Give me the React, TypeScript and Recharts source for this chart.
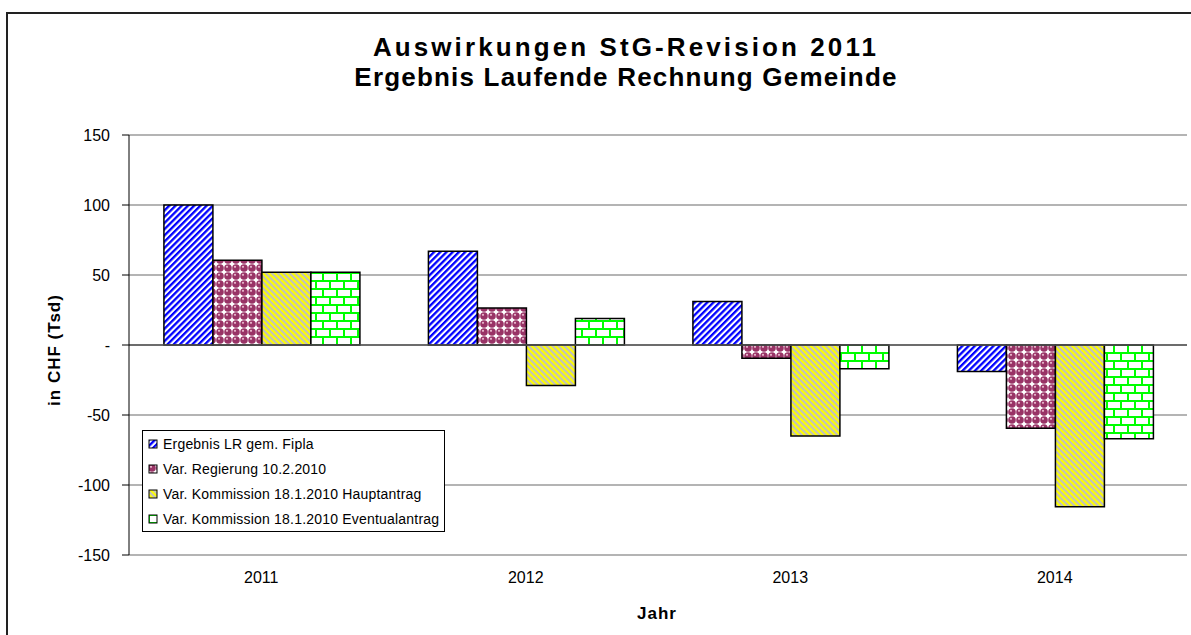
import React from "react";
import {
  Bar,
  BarChart,
  CartesianGrid,
  Legend,
  ReferenceLine,
  XAxis,
  YAxis,
} from "recharts";

const years = ["2011", "2012", "2013", "2014"];
const fipla = [100, 67, 31, -19];
const regierung = [60.5, 26.5, -9.5, -59.5];
const hauptantrag = [52, -29, -65, -115.5];
const eventualantrag = [52, 19, -17, -67];
const yTicks = [-150, -100, -50, 0, 50, 100, 150];

const series = [
  { key: "fipla", name: "Ergebnis LR gem. Fipla", fill: "url(#patBlue)" },
  { key: "regierung", name: "Var. Regierung 10.2.2010", fill: "url(#patRed)" },
  { key: "haupt", name: "Var. Kommission 18.1.2010 Hauptantrag", fill: "url(#patYellow)" },
  { key: "eventual", name: "Var. Kommission 18.1.2010 Eventualantrag", fill: "url(#patGreen)" },
];

const data = years.map((year, i) => ({
  year,
  fipla: fipla[i],
  regierung: regierung[i],
  haupt: hauptantrag[i],
  eventual: eventualantrag[i],
}));

const font = '"Liberation Sans", Arial, sans-serif';

function LegendBox() {
  return (
    <div
      style={{
        border: "1px solid #000",
        background: "#fff",
        padding: "0 4px 0 5px",
        fontFamily: font,
        fontSize: 14,
        color: "#000",
        boxSizing: "border-box",
      }}
    >
      {series.map((s) => (
        <div key={s.key} style={{ display: "flex", alignItems: "center", height: 25 }}>
          <svg width={10} height={10} style={{ marginRight: 5, flexShrink: 0 }}>
            <rect x={1} y={1} width={8} height={8} fill={s.fill} stroke="#000" strokeWidth={1} />
          </svg>
          <span style={{ letterSpacing: 0.2, whiteSpace: "nowrap" }}>{s.name}</span>
        </div>
      ))}
    </div>
  );
}

export default function App() {
  return (
    <div
      style={{
        position: "absolute",
        left: 0,
        top: 0,
        width: 1191,
        height: 635,
        overflow: "hidden",
        background: "#fff",
        fontFamily: font,
      }}
    >
      {/* outer chart frame */}
      <div
        style={{
          position: "absolute",
          left: 6,
          top: 12,
          width: 1220,
          height: 700,
          border: "2px solid #222",
          boxSizing: "border-box",
        }}
      />
      <div
        style={{
          position: "absolute",
          left: 126,
          width: 1000,
          top: 32,
          textAlign: "center",
          fontWeight: "bold",
          fontSize: 26,
          lineHeight: "30px",
          color: "#000",
        }}
      >
        <div style={{ letterSpacing: 3.1 }}>Auswirkungen StG-Revision 2011</div>
        <div style={{ letterSpacing: 1.2 }}>Ergebnis Laufende Rechnung Gemeinde</div>
      </div>
      <div
        style={{
          position: "absolute",
          left: 55,
          top: 350,
          transform: "translate(-50%, -50%) rotate(-90deg)",
          fontWeight: "bold",
          fontSize: 17,
          letterSpacing: 1,
          whiteSpace: "nowrap",
        }}
      >
        in CHF (Tsd)
      </div>
      <div
        style={{
          position: "absolute",
          left: 657,
          top: 614,
          transform: "translate(-50%, -50%)",
          fontWeight: "bold",
          fontSize: 17,
          letterSpacing: 1,
        }}
      >
        Jahr
      </div>
      <div style={{ position: "absolute", left: 0, top: 0 }}>
        <BarChart
          width={1191}
          height={635}
          data={data}
          margin={{ top: 135, right: 4, left: 0, bottom: 40 }}
          barCategoryGap="13.2%"
          barGap={0}
        >
          <defs>
            <pattern id="patBlue" width={4.4} height={4.4} patternUnits="userSpaceOnUse" patternTransform="rotate(45)">
              <rect width={4.4} height={4.4} fill="#fff" />
              <rect width={2.3} height={4.4} fill="#0000ff" />
            </pattern>
            <pattern id="patYellow" width={4.2} height={4.2} patternUnits="userSpaceOnUse" patternTransform="rotate(-45)">
              <rect width={4.2} height={4.2} fill="#c0c0c0" />
              <rect width={2.1} height={4.2} fill="#ffff00" />
            </pattern>
            <pattern id="patRed" width={8} height={8} patternUnits="userSpaceOnUse">
              <rect width={8} height={8} fill="#fff" />
              <circle cx={4} cy={4} r={3.8} fill="#993366" />
              <circle cx={3} cy={2.8} r={1.1} fill="#e8b8cc" />
            </pattern>
            <pattern id="patGreen" width={14} height={16} patternUnits="userSpaceOnUse">
              <rect width={14} height={16} fill="#fff" />
              <rect x={0} y={0} width={14} height={2} fill="#00ff00" />
              <rect x={0} y={8} width={14} height={2} fill="#00ff00" />
              <rect x={0} y={0} width={2} height={8} fill="#00ff00" />
              <rect x={7} y={8} width={2} height={8} fill="#00ff00" />
            </pattern>
          </defs>
          <CartesianGrid vertical={false} stroke="#6b6b6b" strokeWidth={1.2} />
          <XAxis
            dataKey="year"
            axisLine={false}
            tickLine={false}
            tickSize={0}
            tickMargin={17}
            height={40}
            tick={{ fill: "#000", fontSize: 16, fontFamily: font }}
          />
          <YAxis
            domain={[-150, 150]}
            ticks={yTicks}
            width={129}
            interval={0}
            stroke="#000"
            tickSize={7}
            tickMargin={12}
            tickFormatter={(v: number) => (v === 0 ? "-" : String(v))}
            tick={{ fill: "#000", fontSize: 16, fontFamily: font }}
          />
          <YAxis
            yAxisId="right"
            orientation="right"
            domain={[-150, 150]}
            width={0}
            tick={false}
            tickLine={false}
            stroke="#9a9a9a"
            strokeWidth={2}
          />
          <ReferenceLine y={0} stroke="#555" strokeWidth={1.5} />
          {series.map((s) => (
            <Bar
              key={s.key}
              dataKey={s.key}
              name={s.name}
              fill={s.fill}
              stroke="#000"
              strokeWidth={1.5}
              isAnimationActive={false}
            />
          ))}
          <Legend
            layout="vertical"
            align="center"
            verticalAlign="middle"
            wrapperStyle={{ left: 142, top: 430, width: 303 }}
            content={() => <LegendBox />}
          />
        </BarChart>
      </div>
    </div>
  );
}
